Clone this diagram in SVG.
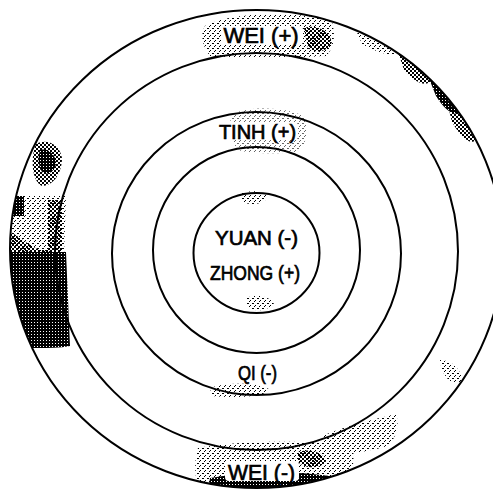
<svg xmlns="http://www.w3.org/2000/svg" width="493" height="490" viewBox="0 0 493 490">
<defs>
<style>
.ring{fill:none;stroke:#000;stroke-width:2}
.lbl{font-family:"Liberation Sans",Arial,sans-serif;fill:#000;stroke:#000;stroke-width:0.7;text-anchor:middle}
.knock{fill:#fff}
</style>
<pattern id="dense" width="3" height="3" patternUnits="userSpaceOnUse"><rect width="3" height="3" fill="#000"/><rect x="1" y="1" width="1" height="1" fill="#fff"/></pattern>
<pattern id="mid" width="4" height="4" patternUnits="userSpaceOnUse"><rect width="2" height="2" fill="#000"/><rect x="2" y="2" width="2" height="2" fill="#000"/></pattern>
<pattern id="light" width="5" height="5" patternUnits="userSpaceOnUse"><rect width="1" height="1" fill="#000"/><rect x="2" y="3" width="2" height="1" fill="#000"/><rect x="4" y="1" width="1" height="1" fill="#000"/></pattern>
<clipPath id="band1"><path fill-rule="evenodd" d="M10,249a246.5,239 0 1,0 493,0a246.5,239 0 1,0 -493,0Z M55,251.5a201.5,198.5 0 1,0 403,0a201.5,198.5 0 1,0 -403,0Z"/></clipPath>
</defs>
<rect width="493" height="490" fill="#fff"/>
<g id="shading" clip-path="url(#band1)">
<path d="M8,196 L66,196 L64,256 L8,256 Z" fill="url(#light)"/>
<path d="M8,196 L24,196 L24,216 L8,216 Z" fill="url(#dense)"/>
<path d="M48,200 L62,200 L62,250 L48,250 Z" fill="url(#mid)"/>
<path d="M8,230 C18,236 30,246 40,250 L62,250 L62,256 L8,256 Z" fill="url(#mid)"/>
<path d="M8,252 L66,252 L70,346 C50,350 25,346 8,350 Z" fill="url(#dense)"/>
<path d="M36,144 C46,138 60,144 62,158 C62,172 54,186 42,186 C32,182 30,158 36,144 Z" fill="url(#mid)"/>
<path d="M40,150 C48,148 56,154 56,164 C54,172 48,176 42,172 C38,166 38,156 40,150 Z" fill="url(#dense)"/>
<path d="M355,28 C372,26 392,36 404,52 C396,58 380,54 362,44 Z" fill="url(#light)"/>
<path d="M398,52 C410,50 424,62 432,80 C426,88 414,82 404,70 Z" fill="url(#mid)"/>
<path d="M428,76 C440,74 452,90 462,110 C456,118 446,112 436,96 Z" fill="url(#dense)"/>
<path d="M448,106 C460,106 470,122 476,140 C470,146 460,136 452,122 Z" fill="url(#mid)"/>
<path d="M205,26 C230,12 300,10 332,22 C336,36 334,48 326,56 C290,58 240,58 210,56 C202,46 200,34 205,26 Z" fill="url(#light)"/>
<path d="M304,28 C316,24 328,30 332,42 C328,52 316,54 308,48 Z" fill="url(#mid)"/>
<path d="M198,448 C240,440 310,440 352,446 C356,462 352,478 340,492 L200,492 C194,478 194,460 198,448 Z" fill="url(#light)"/>
<path d="M210,478 C240,472 290,470 330,476 L332,492 L208,492 Z" fill="url(#dense)"/>
<path d="M298,452 C310,448 324,452 326,462 C318,470 304,468 298,462 Z" fill="url(#mid)"/>
<path d="M322,436 C345,426 372,420 396,414 C400,426 396,438 388,446 C366,452 340,456 326,456 Z" fill="url(#light)"/>
<path d="M440,360 C452,360 462,370 462,382 C452,386 442,378 440,360 Z" fill="url(#light)"/>
</g>
<g id="inner-shading">
<path d="M232,114 C248,106 290,106 306,118 C308,132 306,146 298,152 C276,154 250,154 238,150 C230,140 228,124 232,114 Z" fill="url(#light)" opacity="0.6"/>
<path d="M240,194 C248,190 262,190 268,196 C266,204 252,206 242,202 Z" fill="url(#light)"/>
<path d="M246,298 C256,294 270,296 274,304 C266,312 252,312 246,306 Z" fill="url(#light)"/>
<path d="M210,388 C225,382 260,382 270,390 C262,398 230,398 212,396 Z" fill="url(#light)"/>
</g>
<g id="rings">
<ellipse id="outer" class="ring" cx="256.5" cy="249" rx="246.5" ry="239"/>
<ellipse id="wei-ring" class="ring" cx="256.5" cy="251.5" rx="201.5" ry="198.5"/>
<ellipse id="tinh-ring" class="ring" cx="256.5" cy="253.5" rx="144.5" ry="141.5"/>
<ellipse id="qi-ring" class="ring" cx="256.5" cy="250" rx="103.5" ry="103"/>
<ellipse id="inner" class="ring" cx="256.5" cy="253" rx="63" ry="60"/>
</g>
<g id="labels">
<g id="wei-plus"><rect class="knock" x="221" y="26" width="82" height="19" rx="4"/><text class="lbl" x="261" y="43" font-size="22">WEI (+)</text></g>
<g id="tinh"><rect class="knock" x="218" y="122" width="80" height="18" rx="4"/><text class="lbl" x="257.5" y="139" font-size="20">TINH (+)</text></g>
<g id="yuan"><text class="lbl" x="256.5" y="245" font-size="21" textLength="83" lengthAdjust="spacingAndGlyphs">YUAN (-)</text></g>
<g id="zhong"><text class="lbl" x="255" y="280" font-size="20" textLength="90" lengthAdjust="spacingAndGlyphs">ZHONG (+)</text></g>
<g id="qi"><text class="lbl" x="257.5" y="380" font-size="20" textLength="39" lengthAdjust="spacingAndGlyphs">QI (-)</text></g>
<g id="wei-minus"><rect class="knock" x="225" y="461" width="74" height="20" rx="4"/><text class="lbl" x="261.5" y="480" font-size="22" textLength="67" lengthAdjust="spacingAndGlyphs">WEI (-)</text></g>
</g>
</svg>
